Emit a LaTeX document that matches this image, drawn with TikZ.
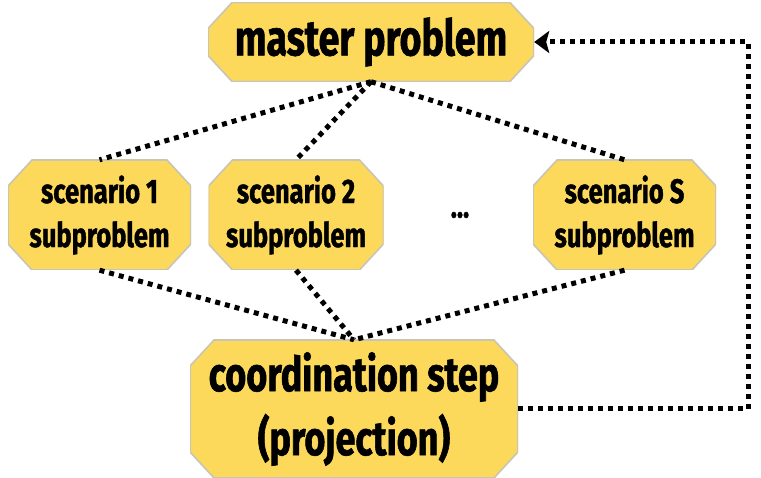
\documentclass[tikz,border=0pt]{standalone}
\usepackage{fontspec}
\setmainfont{Fira Sans Bold}[FakeStretch=0.75,FakeBold=1.2]
\usetikzlibrary{arrows.meta}
\definecolor{boxfill}{HTML}{FCD95B}
\definecolor{boxline}{HTML}{C9C5B5}
\tikzset{
  box/.style={rectangle, inner sep=0pt, align=center,
    path picture={
      \path[fill=boxfill, draw=boxline, line width=1.6pt]
        ([xshift=24pt]path picture bounding box.north west) --
        ([xshift=-24pt]path picture bounding box.north east) --
        ([yshift=-26pt]path picture bounding box.north east) --
        ([yshift=26pt]path picture bounding box.south east) --
        ([xshift=-24pt]path picture bounding box.south east) --
        ([xshift=24pt]path picture bounding box.south west) --
        ([yshift=26pt]path picture bounding box.south west) --
        ([yshift=-26pt]path picture bounding box.north west) -- cycle;
    }},
  link/.style={line width=5pt, dash pattern=on 5pt off 5pt},
}
\begin{document}
\begin{tikzpicture}[x=1pt,y=-1pt]
\useasboundingbox (0,0) rectangle (761,478);
\node[box, minimum width=326pt, minimum height=79pt, font=\fontsize{50}{52}\selectfont] (master) at (371,42) {master problem};
\node[box, minimum width=183pt, minimum height=110pt, font=\fontsize{34}{44}\selectfont] (s1) at (99.5,215) {scenario 1\\subproblem};
\node[box, minimum width=175pt, minimum height=110pt, font=\fontsize{34}{44}\selectfont] (s2) at (296,215) {scenario 2\\subproblem};
\node[box, minimum width=183pt, minimum height=110pt, font=\fontsize{34}{44}\selectfont] (sS) at (624.5,215) {scenario S\\subproblem};
\node[font=\fontsize{34}{36}\selectfont] (dots) at (460,215) {...};
\node[box, minimum width=328pt, minimum height=138pt, font=\fontsize{48}{64}\selectfont] (coord) at (354,409) {coordination step\\(projection)};
\coordinate (fb) at (748,409);
\draw[link] (master.south) -- (s1.north);
\draw[link] (master.south) -- (s2.north);
\draw[link] (master.south) -- (sS.north);
\draw[link] (s1.south) -- (coord.north);
\draw[link] (s2.south) -- (coord.north);
\draw[link] (sS.south) -- (coord.north);
\draw[link, -{Stealth[length=15pt,width=22pt,inset=3pt]}] (coord.east) -- (fb) |- (master.east);
\end{tikzpicture}
\end{document}
